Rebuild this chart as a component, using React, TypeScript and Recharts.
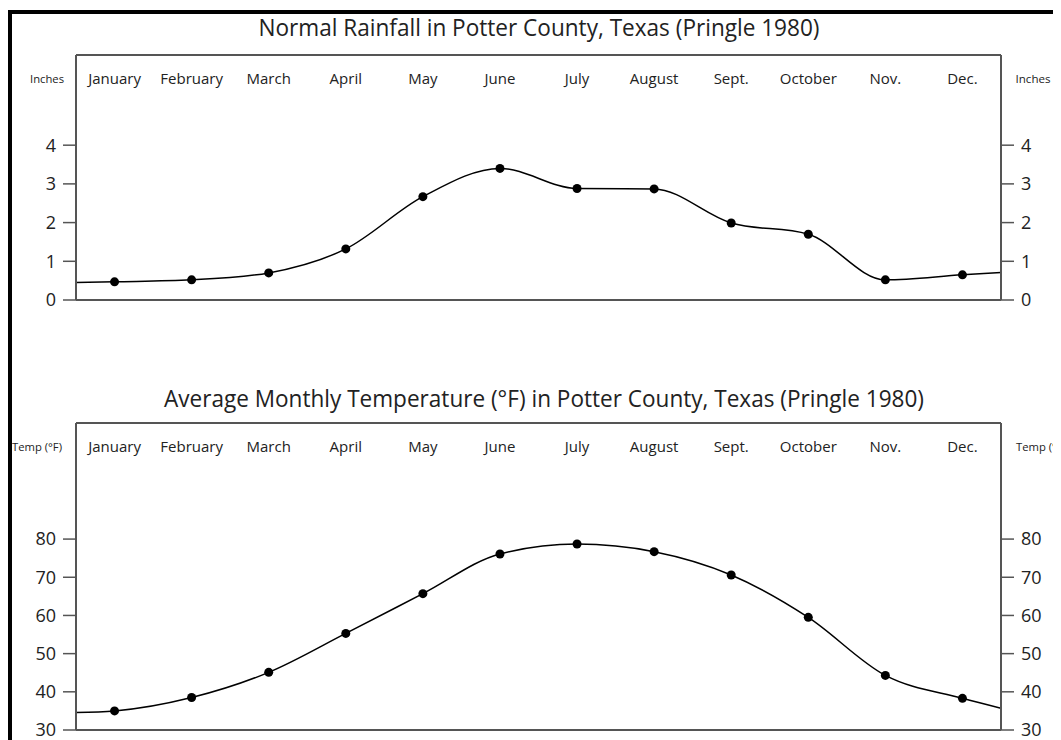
import React from 'react';
import { LineChart, Line, XAxis, YAxis } from 'recharts';

// ---- data ----
const months = ['January', 'February', 'March', 'April', 'May', 'June', 'July', 'August', 'Sept.', 'October', 'Nov.', 'Dec.'];
const monthTicks = [1, 2, 3, 4, 5, 6, 7, 8, 9, 10, 11, 12];

const rainfall = [0.47, 0.52, 0.7, 1.32, 2.67, 3.4, 2.88, 2.87, 1.99, 1.7, 0.52, 0.65];
// curve values where the line meets the left / right frame
const rainfallEdges = [0.45, 0.71];
const rainfallTicks = [0, 1, 2, 3, 4];

const temperature = [35.0, 38.5, 45.1, 55.3, 65.7, 76.1, 78.7, 76.7, 70.6, 59.5, 44.3, 38.3];
const temperatureEdges = [34.6, 35.7];
const temperatureTicks = [30, 40, 50, 60, 70, 80];

type Row = { m: number; v: number; edge?: boolean };

const buildRows = (values: number[], edges: number[]): Row[] => [
  { m: 0.5, v: edges[0], edge: true },
  ...values.map((v, i) => ({ m: monthTicks[i], v })),
  { m: 12.5, v: edges[1], edge: true },
];

const rainRows = buildRows(rainfall, rainfallEdges);
const tempRows = buildRows(temperature, temperatureEdges);

const FRAME = '#555';
const TEXT = '#222';

const MonthTick = (props: any) => {
  const { x, y, payload } = props;
  return (
    <text x={x} y={y + 24} dy="0.35em" textAnchor="middle" fontSize={15} fill={TEXT}>
      {months[payload.value - 1]}
    </text>
  );
};

const renderDot = (props: any) => {
  const { cx, cy, payload, index } = props;
  if (payload.edge) return <g key={`d${index}`} />;
  return <circle key={`d${index}`} cx={cx} cy={cy} r={4.5} fill="#000" stroke="none" />;
};

type PanelProps = {
  rows: Row[];
  ticks: number[];
  domain: [number, number];
  height: number;
  top: number;
  bottom: number;
};

const Panel = ({ rows, ticks, domain, height, top, bottom }: PanelProps) => (
  <LineChart width={1053} height={height} data={rows} margin={{ top: top - 1, right: 0, bottom: bottom - 1, left: 0 }}>
    <XAxis
      xAxisId="top"
      orientation="top"
      type="number"
      dataKey="m"
      domain={[0.5, 12.5]}
      ticks={monthTicks}
      tick={<MonthTick />}
      tickLine={false}
      tickSize={0}
      tickMargin={0}
      axisLine={{ stroke: FRAME, strokeWidth: 2 }}
      height={1}
      interval={0}
      allowDataOverflow
    />
    <XAxis
      xAxisId="bottom"
      orientation="bottom"
      type="number"
      dataKey="m"
      domain={[0.5, 12.5]}
      ticks={monthTicks}
      tick={false}
      tickLine={false}
      axisLine={{ stroke: FRAME, strokeWidth: 2 }}
      height={1}
      allowDataOverflow
    />
    <YAxis
      yAxisId="left"
      orientation="left"
      width={68}
      type="number"
      domain={domain}
      ticks={ticks}
      interval={0}
      tickSize={13}
      tickMargin={7}
      tickLine={{ stroke: FRAME, strokeWidth: 1.5 }}
      axisLine={{ stroke: FRAME, strokeWidth: 2 }}
      tick={{ fontSize: 18, fill: TEXT }}
      allowDataOverflow
    />
    <YAxis
      yAxisId="right"
      orientation="right"
      width={60}
      type="number"
      domain={domain}
      ticks={ticks}
      interval={0}
      tickSize={13}
      tickMargin={7}
      tickLine={{ stroke: FRAME, strokeWidth: 1.5 }}
      axisLine={{ stroke: FRAME, strokeWidth: 2 }}
      tick={{ fontSize: 18, fill: TEXT }}
      allowDataOverflow
    />
    <Line
      xAxisId="bottom"
      yAxisId="left"
      dataKey="v"
      type="monotone"
      stroke="#000"
      strokeWidth={1.5}
      dot={renderDot}
      activeDot={false}
      isAnimationActive={false}
    />
  </LineChart>
);

export default function App() {
  return (
    <div
      style={{
        position: 'relative',
        width: 1053,
        height: 732,
        fontFamily: '"Open Sans", "Noto Sans", sans-serif',
        overflow: 'hidden',
        background: '#fff',
      }}
    >
      <div
        style={{
          position: 'absolute',
          left: 0,
          top: 2,
          width: 1053,
          height: 730,
          borderLeft: '4px solid #000',
          borderTop: '4px solid #000',
          boxSizing: 'border-box',
        }}
      />
      <div style={{ position: 'absolute', left: 0, top: 0 }}>
        <Panel rows={rainRows} ticks={rainfallTicks} domain={[0, 6.33]} height={310} top={47} bottom={18} />
      </div>
      <div style={{ position: 'absolute', left: 0, top: 360 }}>
        <Panel rows={tempRows} ticks={temperatureTicks} domain={[30, 110.4]} height={372} top={55} bottom={10} />
      </div>
      <svg
        width={1053}
        height={732}
        style={{ position: 'absolute', left: 0, top: 0, pointerEvents: 'none' }}
      >
        <text x={531} y={28} textAnchor="middle" fontSize={23} fill={TEXT} textLength={561} lengthAdjust="spacingAndGlyphs">
          Normal Rainfall in Potter County, Texas (Pringle 1980)
        </text>
        <text x={536} y={398.5} textAnchor="middle" fontSize={23} fill={TEXT} textLength={760} lengthAdjust="spacingAndGlyphs">
          Average Monthly Temperature (°F) in Potter County, Texas (Pringle 1980)
        </text>
        <text x={39} y={71} dy="0.35em" textAnchor="middle" fontSize={10} fill={TEXT} textLength={34} lengthAdjust="spacingAndGlyphs">
          Inches
        </text>
        <text x={1025} y={71} dy="0.35em" textAnchor="middle" fontSize={10} fill={TEXT} textLength={35} lengthAdjust="spacingAndGlyphs">
          Inches
        </text>
        <text x={4} y={439.7} dy="0.35em" textAnchor="start" fontSize={10} fill={TEXT} textLength={50} lengthAdjust="spacingAndGlyphs">
          Temp (°F)
        </text>
        <text x={1008} y={439.7} dy="0.35em" textAnchor="start" fontSize={10} fill={TEXT} textLength={50} lengthAdjust="spacingAndGlyphs">
          Temp (°F)
        </text>
      </svg>
    </div>
  );
}
